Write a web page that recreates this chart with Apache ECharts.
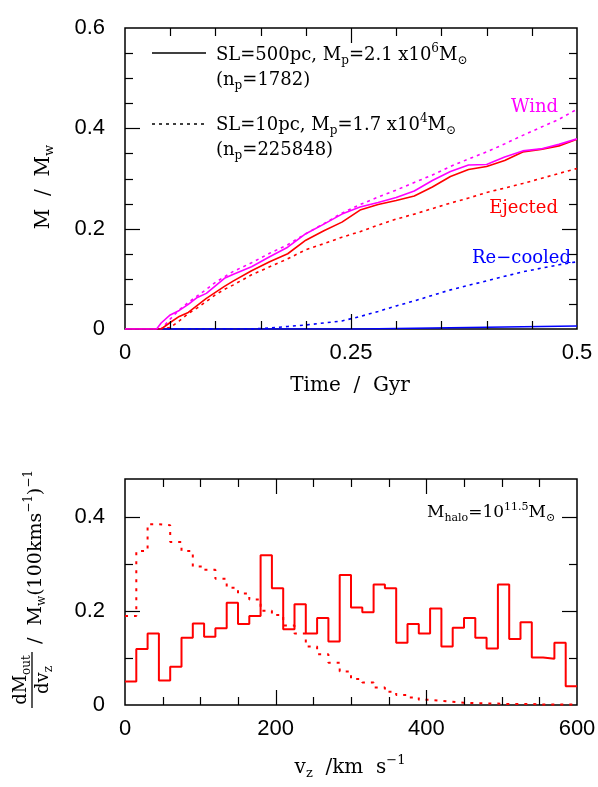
<!DOCTYPE html>
<html><head><meta charset="utf-8">
<script src="https://cdn.jsdelivr.net/npm/echarts@6/dist/echarts.min.js"></script>
<style>html,body{margin:0;padding:0;background:#fff}#c{width:598px;height:787px}</style>
</head><body><div id="c"></div>
<script>
// ---------- Top panel data (Time / Gyr vs M / M_w) ----------
const timeGyr = [0, 0.03, 0.035, 0.04, 0.05, 0.06, 0.07, 0.08, 0.09, 0.10, 0.11, 0.12, 0.14, 0.16, 0.18, 0.20, 0.22, 0.24, 0.26, 0.28, 0.30, 0.32, 0.34, 0.36, 0.38, 0.40, 0.42, 0.44, 0.46, 0.48, 0.50];
const windSolid = [0, 0, 0, 0.012, 0.028, 0.037, 0.049, 0.063, 0.071, 0.086, 0.101, 0.109, 0.124, 0.144, 0.163, 0.190, 0.209, 0.229, 0.243, 0.252, 0.262, 0.275, 0.296, 0.314, 0.327, 0.328, 0.343, 0.355, 0.359, 0.368, 0.379];
const ejectedSolid = [0, 0, 0, 0, 0.013, 0.025, 0.033, 0.047, 0.061, 0.073, 0.085, 0.096, 0.116, 0.134, 0.150, 0.177, 0.196, 0.213, 0.237, 0.248, 0.256, 0.265, 0.283, 0.304, 0.318, 0.324, 0.336, 0.353, 0.358, 0.365, 0.378];
const recooledSolid = [0, 0, 0, 0, 0, 0, 0, 0, 0, 0, 0, 0, 0, 0, 0, 0, 0, 0, 0, 0.0005, 0.001, 0.0015, 0.002, 0.0025, 0.003, 0.0035, 0.004, 0.0045, 0.005, 0.0055, 0.006];
const windDotted = [0, 0, 0, 0, 0.020, 0.038, 0.053, 0.066, 0.079, 0.093, 0.104, 0.115, 0.132, 0.151, 0.168, 0.190, 0.210, 0.231, 0.248, 0.263, 0.277, 0.292, 0.307, 0.324, 0.339, 0.353, 0.369, 0.386, 0.402, 0.418, 0.438];
const ejectedDotted = [0, 0, 0, 0, 0.003, 0.016, 0.031, 0.042, 0.055, 0.068, 0.079, 0.088, 0.108, 0.124, 0.140, 0.158, 0.170, 0.183, 0.194, 0.207, 0.219, 0.229, 0.240, 0.251, 0.261, 0.272, 0.281, 0.290, 0.300, 0.310, 0.320];
const recooledDotted = [0, 0, 0, 0, 0, 0, 0, 0, 0, 0, 0, 0, 0, 0.002, 0.005, 0.008, 0.012, 0.016, 0.025, 0.035, 0.046, 0.056, 0.067, 0.078, 0.087, 0.096, 0.105, 0.114, 0.121, 0.128, 0.134];

// ---------- Bottom panel data (v_z histogram) ----------
const vzEdges = [0, 15, 30, 45, 60, 75, 90, 105, 120, 135, 150, 165, 180, 195, 210, 225, 240, 255, 270, 285, 300, 315, 330, 345, 360, 375, 390, 405, 420, 435, 450, 465, 480, 495, 510, 525, 540, 555, 570, 585, 600];
const histSolid = [0.050, 0.119, 0.152, 0.052, 0.081, 0.143, 0.173, 0.145, 0.163, 0.217, 0.172, 0.189, 0.318, 0.248, 0.161, 0.214, 0.152, 0.185, 0.135, 0.276, 0.207, 0.197, 0.256, 0.248, 0.132, 0.172, 0.152, 0.205, 0.124, 0.164, 0.185, 0.143, 0.120, 0.256, 0.140, 0.176, 0.101, 0.098, 0.132, 0.040];
const histDotted = [0.189, 0.327, 0.384, 0.382, 0.346, 0.327, 0.294, 0.287, 0.268, 0.249, 0.237, 0.224, 0.200, 0.191, 0.169, 0.152, 0.124, 0.108, 0.090, 0.071, 0.055, 0.048, 0.037, 0.028, 0.021, 0.016, 0.011, 0.009, 0.007, 0.005, 0.004, 0.0035, 0.003, 0.002, 0.002, 0.002, 0.001, 0.001, 0.001, 0.001];

// ---------- Tick values ----------
const topXTicks = [0, 0.25, 0.5];
const topYTicks = [0, 0.2, 0.4, 0.6];
const botXTicks = [0, 200, 400, 600];
const botYTicks = [0, 0.2, 0.4];
const topXMajor = [0.25];
const topXMinor = [0.05, 0.10, 0.15, 0.20, 0.30, 0.35, 0.40, 0.45];
const topYMajor = [0.2, 0.4];
const topYMinor = [0.05, 0.10, 0.15, 0.25, 0.30, 0.35, 0.45, 0.50, 0.55];
const botXMajor = [200, 400];
const botXMinor = [50, 100, 150, 250, 300, 350, 450, 500, 550];
const botYMajor = [0.2, 0.4];
const botYMinor = [0.1, 0.3];

const SERIF = '"DejaVu Serif", serif';
const SANS = '"Liberation Sans", Arial, sans-serif';
const MAGENTA = '#ff00ff', RED = '#ff0000', BLUE = '#0000ff';

function pairs(xs, ys) { return xs.map((x, i) => [x, ys[i]]); }
function histPairs(edges, vals) {
  const d = vals.map((v, i) => [edges[i], v]);
  d.push([edges[vals.length], vals[vals.length - 1]]);
  return d;
}
function richFor(fs, color) {
  const s = Math.round(fs * 0.64);
  return {
    sub: { fontFamily: SERIF, fontSize: s, fill: color, padding: [Math.round(fs * 0.62), 0, 0, 0] },
    sup: { fontFamily: SERIF, fontSize: s, fill: color, padding: [0, 0, Math.round(fs * 0.72), 0] }
  };
}
function tickFormatter(list) {
  return v => list.some(t => Math.abs(t - v) < 1e-9) ? String(+v.toFixed(4)) : '';
}
function labelAxis(kind, gridIndex, pos, min, max, interval, ticksList) {
  return {
    type: 'value', gridIndex, position: pos, min, max, interval,
    axisLine: { show: false }, splitLine: { show: false },
    axisTick: { show: false }, minorTick: { show: false },
    axisLabel: {
      show: true, color: '#000', fontFamily: SANS, fontSize: 22,
      margin: kind === 'x' ? 13 : 20, showMinLabel: true, showMaxLabel: true,
      formatter: tickFormatter(ticksList)
    }
  };
}
// Ticks drawn inside the frame on all four sides, positioned through the axes' scales
function tickSeries(xi, yi, dir, majors, minors) {
  const data = majors.map(v => [v, 15]).concat(minors.map(v => [v, 8]));
  return {
    type: 'custom', xAxisIndex: xi, yAxisIndex: yi, silent: true, clip: false, z: 6,
    data,
    renderItem(params, api) {
      const cs = params.coordSys;
      const v = api.value(0), len = api.value(1);
      const st = { stroke: '#000', lineWidth: 1.2 };
      if (dir === 'x') {
        const px = Math.round(api.coord([v, 0])[0]) + 0.5;
        const yb = cs.y + cs.height, yt = cs.y;
        return { type: 'group', children: [
          { type: 'line', shape: { x1: px, y1: yb, x2: px, y2: yb - len }, style: st },
          { type: 'line', shape: { x1: px, y1: yt, x2: px, y2: yt + len }, style: st }
        ] };
      }
      const py = Math.round(api.coord([0, v])[1]) + 0.5;
      const xl = cs.x, xr = cs.x + cs.width;
      return { type: 'group', children: [
        { type: 'line', shape: { x1: xl, y1: py, x2: xl + len, y2: py }, style: st },
        { type: 'line', shape: { x1: xr, y1: py, x2: xr - len, y2: py }, style: st }
      ] };
    }
  };
}

const chart = echarts.init(document.getElementById('c'), null, { renderer: 'canvas' });

function lineSeries(xi, yi, data, color, dotted, width, z, step) {
  return {
    type: 'line', xAxisIndex: xi, yAxisIndex: yi, data, color,
    symbol: 'none', showSymbol: false, silent: true, z, step: step || false,
    lineStyle: { color, width, type: dotted ? dotted : 'solid', cap: 'butt' }
  };
}

const option = {
  animation: false,
  backgroundColor: '#fff',
  grid: [
    { left: 125, top: 28, width: 452, height: 301, show: true, borderColor: '#000', borderWidth: 1.5, outerBoundsMode: 'none', containLabel: false },
    { left: 125, top: 479, width: 452, height: 226, show: true, borderColor: '#000', borderWidth: 1.5, outerBoundsMode: 'none', containLabel: false }
  ],
  xAxis: [
    labelAxis('x', 0, 'bottom', 0, 0.5, 0.25, topXTicks),
    labelAxis('x', 1, 'bottom', 0, 600, 200, botXTicks)
  ],
  yAxis: [
    labelAxis('y', 0, 'left', 0, 0.6, 0.2, topYTicks),
    labelAxis('y', 1, 'left', 0, 0.48, 0.2, botYTicks)
  ],
  series: [
    tickSeries(0, 0, 'x', topXMajor, topXMinor),
    tickSeries(0, 0, 'y', topYMajor, topYMinor),
    tickSeries(1, 1, 'x', botXMajor, botXMinor),
    tickSeries(1, 1, 'y', botYMajor, botYMinor),
    lineSeries(0, 0, pairs(timeGyr, recooledDotted), BLUE, [3, 4], 1.6, 2),
    lineSeries(0, 0, pairs(timeGyr, ejectedDotted), RED, [3, 4], 1.6, 2),
    lineSeries(0, 0, pairs(timeGyr, windDotted), MAGENTA, [3, 4], 1.6, 2),
    lineSeries(0, 0, pairs(timeGyr, recooledSolid), BLUE, null, 1.6, 3),
    lineSeries(0, 0, pairs(timeGyr, ejectedSolid), RED, null, 1.6, 3),
    lineSeries(0, 0, pairs(timeGyr, windSolid), MAGENTA, null, 1.6, 3),
    lineSeries(1, 1, histPairs(vzEdges, histDotted), RED, [3, 6], 2, 2, 'end'),
    lineSeries(1, 1, histPairs(vzEdges, histSolid), RED, null, 2, 3, 'end')
  ],
  graphic: [
    // legend
    { type: 'line', shape: { x1: 152, y1: 53, x2: 206, y2: 53 }, style: { stroke: '#000', lineWidth: 1.5 }, silent: true },
    { type: 'line', shape: { x1: 152, y1: 124, x2: 206, y2: 124 }, style: { stroke: '#000', lineWidth: 1.5, lineDash: [3, 4] }, silent: true },
    { type: 'text', x: 216, y: 55, silent: true, style: { text: 'SL=500pc, M{sub|p}=2.1 x10{sup|6}M{sub|⊙}', font: '18px ' + SERIF, fill: '#000', verticalAlign: 'middle', rich: richFor(18, '#000') } },
    { type: 'text', x: 216, y: 80, silent: true, style: { text: '(n{sub|p}=1782)', font: '18px ' + SERIF, fill: '#000', verticalAlign: 'middle', rich: richFor(18, '#000') } },
    { type: 'text', x: 216, y: 125, silent: true, style: { text: 'SL=10pc, M{sub|p}=1.7 x10{sup|4}M{sub|⊙}', font: '18px ' + SERIF, fill: '#000', verticalAlign: 'middle', rich: richFor(18, '#000') } },
    { type: 'text', x: 216, y: 150, silent: true, style: { text: '(n{sub|p}=225848)', font: '18px ' + SERIF, fill: '#000', verticalAlign: 'middle', rich: richFor(18, '#000') } },
    // curve labels
    { type: 'text', x: 558, y: 107, silent: true, style: { text: 'Wind', font: '18px ' + SERIF, fill: MAGENTA, align: 'right', verticalAlign: 'middle' } },
    { type: 'text', x: 558, y: 208, silent: true, style: { text: 'Ejected', font: '18px ' + SERIF, fill: RED, align: 'right', verticalAlign: 'middle' } },
    { type: 'text', x: 571, y: 258, silent: true, style: { text: 'Re−cooled', font: '18px ' + SERIF, fill: BLUE, align: 'right', verticalAlign: 'middle' } },
    // bottom annotation
    { type: 'text', x: 427, y: 513, silent: true, style: { text: 'M{sub|halo}=10{sup|11.5}M{sub|⊙}', font: '17px ' + SERIF, fill: '#000', verticalAlign: 'middle', rich: richFor(17, '#000') } },
    // axis titles
    { type: 'text', x: 350, y: 386, silent: true, style: { text: 'Time  /  Gyr', font: '20px ' + SERIF, fill: '#000', align: 'center', verticalAlign: 'middle' } },
    { type: 'text', x: 350, y: 768, silent: true, style: { text: 'v{sub|z}  /km  s{sup|−1}', font: '20px ' + SERIF, fill: '#000', align: 'center', verticalAlign: 'middle', rich: richFor(20, '#000') } },
    { type: 'text', x: 44, y: 187, rotation: Math.PI / 2, silent: true, style: { text: 'M  /  M{sub|w}', font: '20px ' + SERIF, fill: '#000', align: 'center', verticalAlign: 'middle', rich: richFor(20, '#000') } },
    { type: 'group', x: 30, y: 592, rotation: Math.PI / 2, silent: true, children: [
      { type: 'text', x: -88, y: -9, style: { text: 'dM{sub|out}', font: '18px ' + SERIF, fill: '#000', align: 'center', verticalAlign: 'middle', rich: richFor(18, '#000') } },
      { type: 'line', shape: { x1: -116, y1: 2, x2: -60, y2: 2 }, style: { stroke: '#000', lineWidth: 1.3 } },
      { type: 'text', x: -88, y: 13, style: { text: 'dv{sub|z}', font: '18px ' + SERIF, fill: '#000', align: 'center', verticalAlign: 'middle', rich: richFor(18, '#000') } },
      { type: 'text', x: -52, y: 6, style: { text: '/  M{sub|w}(100kms{sup|−1}){sup|−1}', font: '19px ' + SERIF, fill: '#000', align: 'left', verticalAlign: 'middle', rich: richFor(19, '#000') } }
    ] }
  ]
};
chart.setOption(option);
</script>
</body></html>
